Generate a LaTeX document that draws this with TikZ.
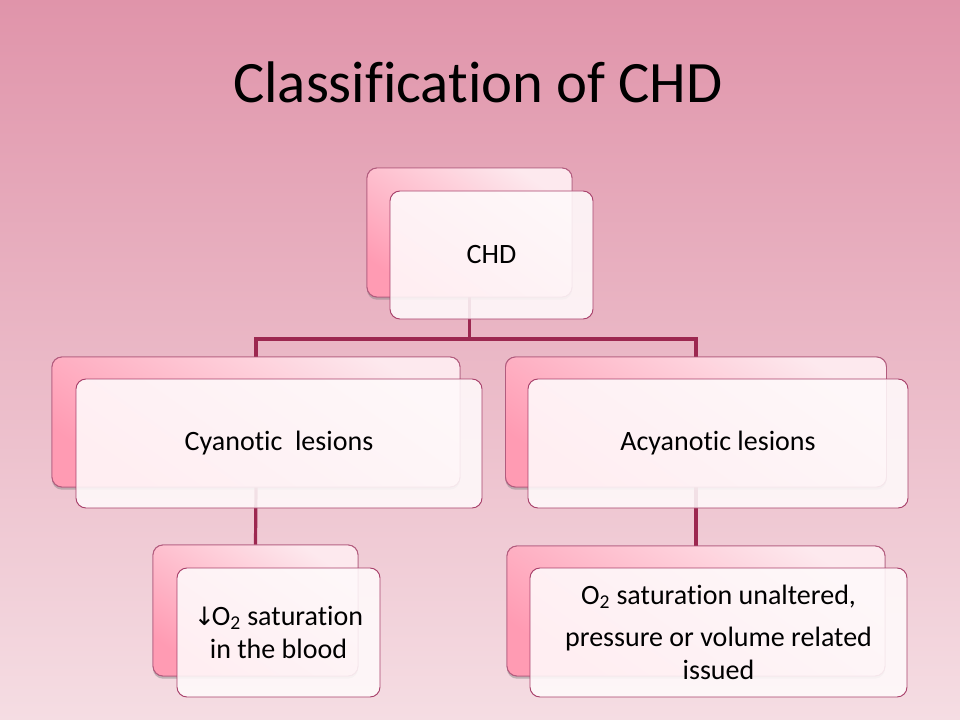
\documentclass[tikz,border=0pt]{standalone}
\usepackage{fontspec}
\setmainfont{Carlito}[Ligatures=NoCommon]
\newfontfamily\arrowfont{DejaVu Sans}
\usetikzlibrary{shadows}
\definecolor{bgtop}{HTML}{E094AA}
\definecolor{bgbot}{HTML}{F5DDE3}
\definecolor{backtop}{HTML}{FDE9EE}
\definecolor{backmid}{HTML}{FDDCE4}
\definecolor{backbot}{HTML}{FF9BB3}
\definecolor{backline}{HTML}{B25C7E}
\definecolor{frontline}{HTML}{A8416B}
\definecolor{frontfill}{HTML}{FFFAFB}
\definecolor{conncol}{HTML}{9C2850}
\begin{document}
\begin{tikzpicture}[x=0.75pt,y=-0.75pt,
  wh/.style 2 args={minimum width=#1*0.75pt, minimum height=#2*0.75pt},
  backbox/.style={draw=backline, line width=0.7pt, rounded corners=7.5pt, inner sep=0pt,
    top color=backtop, middle color=backmid, bottom color=backbot, shading angle=-35,
    drop shadow={shadow xshift=0pt, shadow yshift=-2pt, opacity=0.25}},
  frontbox/.style={draw=frontline, line width=0.7pt, rounded corners=7.5pt, inner sep=2pt,
    fill=frontfill, fill opacity=0.88, text opacity=1, text=black, align=center,
    font=\fontsize{21}{25}\selectfont},
  conn/.style={draw=conncol, line width=2.4pt}]
% background
\fill[top color=bgtop, bottom color=bgbot] (0,0) rectangle (960,720);
\useasboundingbox (0,0) rectangle (960,720);
% title
\node[anchor=base, font=\fontsize{44}{52}\selectfont] (title) at (478,103) {Classification of CHD};
% back boxes
\coordinate (bus) at (0,339);
\node[backbox, wh={205}{129}] (chdB) at (469.5,232.5) {};
\node[backbox, wh={408}{130}] (cyB) at (256,422) {};
\node[backbox, wh={381}{130}] (acB) at (696,422) {};
\node[backbox, wh={205}{131}] (cyCB) at (255.5,610.5) {};
\node[backbox, wh={378}{130}] (acCB) at (696,611) {};
% connectors
\draw[conn] (chdB.south) -- (chdB.south |- bus) -| (cyB.north);
\draw[conn] (chdB.south |- bus) -| (acB.north);
\draw[conn] (cyB.south) -- (cyCB.north);
\draw[conn] (acB.south) -- (acCB.north);
% redraw back boxes over connectors
\node[backbox, wh={205}{129}] at (469.5,232.5) {};
\node[backbox, wh={408}{130}] at (256,422) {};
\node[backbox, wh={381}{130}] at (696,422) {};
\node[backbox, wh={205}{131}] at (255.5,610.5) {};
\node[backbox, wh={378}{130}] at (696,611) {};
% front boxes
\node[frontbox, wh={203}{128}] (chd) at (491.5,255) {CHD};
\node[frontbox, wh={406}{129}] (cy) at (279,443.5) {Cyanotic\ \ lesions};
\node[frontbox, wh={380}{129}] (ac) at (718,443.5) {Acyanotic lesions};
\node[frontbox, wh={203}{129}] (cyC) at (278.5,632.5) {{\arrowfont\fontsize{19}{24}\selectfont ↓}\kern-2.5pt O\textsubscript{2} saturation\\in the blood};
\node[frontbox, wh={377}{129}] (acC) at (718.5,632.5) {O\textsubscript{2} saturation unaltered,\\[6pt]pressure or volume related\\issued};
\end{tikzpicture}
\end{document}
